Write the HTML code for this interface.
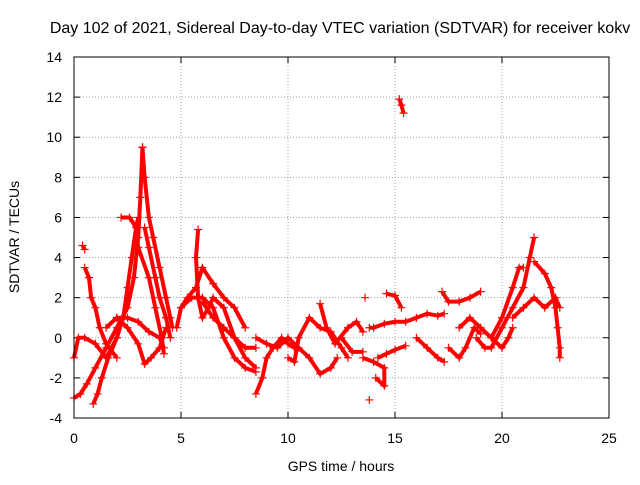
<!DOCTYPE html>
<html><head><meta charset="utf-8"><style>
body{margin:0;background:#fff}
svg text{font-family:"Liberation Sans",sans-serif;fill:#000}
</style></head><body>
<svg id="chart" width="640" height="480">
<rect width="640" height="480" fill="#fff"/>
<text x="340" y="33" font-size="16" text-anchor="middle">Day 102 of 2021, Sidereal Day-to-day VTEC variation (SDTVAR) for receiver kokv</text>
<g id="grid"></g>
<g id="axes"></g>
<g id="marks"></g>
<rect x="74" y="57" width="535" height="361" fill="none" stroke="#000"/>
<text x="341" y="471" font-size="14" text-anchor="middle">GPS time / hours</text>
<text x="0" y="0" font-size="14" text-anchor="middle" transform="translate(19,237) rotate(-90)">SDTVAR / TECUs</text>
</svg>
<script>
const xTicks=[0,5,10,15,20,25];
const yTicks=[-4,-2,0,2,4,6,8,10,12,14];
const tracks=[
[[0,-3],[0.3,-2.8],[0.6,-2.3],[1,-1.5],[1.5,-0.5],[2,0.5],[2.5,1.5],[2.8,3],[3,5],[3.1,7],[3.2,9.5]],
[[3.2,9.5],[3.3,8],[3.5,6],[3.7,5],[4,3.5],[4.3,2],[4.5,1],[4.6,0.5]],
[[0.4,4.6],[0.5,4.4]],
[[0.5,3.5],[0.7,3],[0.8,2],[1,1.5],[1.2,0.5],[1.5,-0.3],[2,-1]],
[[0.9,-3.3],[1.1,-2.8],[1.3,-2],[1.6,-1],[2,0],[2.3,1],[2.5,2.5],[2.7,4],[2.9,5.5],[3,6]],
[[2.2,6],[2.6,6],[2.9,5.5],[3,4.5],[3.5,3],[3.8,1.5],[4.1,0],[4.2,-0.8]],
[[3.3,5.5],[3.5,4.5],[3.8,3],[4,2],[4.3,1],[4.5,0]],
[[0,-1],[0.2,0],[0.5,0],[1,-0.3],[1.5,-1],[2,0]],
[[2,1],[2.5,0.5],[3,-0.3],[3.3,-1.3],[3.6,-1],[4,-0.5],[4.3,0.5]],
[[1.5,0.5],[2,1],[2.5,1],[3,0.8],[3.5,0.3],[4,0],[4.2,-0.5]],
[[5,1.5],[5.3,2],[5.7,2.5],[6,3.5],[6.5,2.7],[7,2],[7.5,1.5],[8,0.5]],
[[5.8,5.4],[5.7,4],[5.8,2],[6,1],[6.3,1.5],[6.5,2],[7,1.5],[7.5,0],[8,-1],[8.5,-1.5]],
[[4.8,0.5],[5,1.5],[5.5,2],[6,2],[6.5,1.5],[7,0],[7.5,-1],[8,-1.5],[8.5,-1.7]],
[[6,1.8],[6.5,1],[7,0.5],[7.5,0],[8,-0.5],[8.5,-0.5]],
[[8.5,-2.8],[8.8,-2],[9,-1],[9.3,-0.5],[9.7,0],[10,-0.3],[10.3,-0.5]],
[[8.5,0],[9,-0.3],[9.5,-0.5],[10,0],[10.5,-0.5],[11,-1],[11.5,-1.8],[12,-1.5],[12.3,-1]],
[[10,-1],[10.3,-1.2],[10.5,0],[11,1],[11.5,0.5],[12,0.3],[12.5,-0.5],[12.8,-1]],
[[11.5,1.7],[11.8,0.5],[12.2,-0.3],[12.8,0.5],[13.2,0.8],[13.5,0.3]],
[[12.5,0],[13,-0.7],[13.5,-0.7]],
[[13.5,-1],[14,-1.2],[14.5,-1.5],[14.5,-2.4],[14.1,-2.0]],
[[13.8,0.5],[14,0.5],[14.5,0.7],[15,0.8],[15.5,0.8],[16,1],[16.5,1.2],[17,1.1],[17.3,1.2]],
[[14.2,-1.0],[14.6,-0.8],[15,-0.6],[15.5,-0.4]],
[[14.6,2.2],[15,2.1],[15.3,1.5]],
[[15.2,11.9],[15.3,11.6],[15.4,11.2]],
[[16,0],[16.5,-0.5],[17,-1],[17.3,-1.2]],
[[17.2,2.3],[17.5,1.8],[18,1.8],[18.5,2],[19,2.3]],
[[17.5,-0.5],[18,-1],[18.3,-0.5],[18.7,0.5],[19,0.2]],
[[18,0.5],[18.5,1],[19,0.5],[19.5,0],[20,-0.5],[20.3,0],[20.5,0.5]],
[[18.8,0],[19.2,-0.5],[19.5,-0.5],[20,0.5],[20.5,1.5],[21,2.5],[21.3,4],[21.5,5]],
[[19.5,0],[20,1],[20.5,2.5],[20.8,3.5],[21,3.5]],
[[21.5,3.8],[22,3.2],[22.3,2.5],[22.5,1.5],[22.6,0.5],[22.7,-0.5],[22.7,-1]],
[[20.5,1],[21,1.5],[21.5,2],[22,1.5],[22.5,2],[22.7,1.5]],
[[13.8,-3.1]],
[[13.6,2]]
];
const NS="http://www.w3.org/2000/svg";
const X=t=>74+t*(535/25);
const Y=v=>418-(v+4)*(361/18);
const grid=document.getElementById('grid'),axes=document.getElementById('axes'),marks=document.getElementById('marks');
function mk(tag,attrs,parent){const e=document.createElementNS(NS,tag);for(const k in attrs)e.setAttribute(k,attrs[k]);parent.appendChild(e);return e;}
xTicks.forEach(t=>{
 const x=X(t);
 if(t>0&&t<25){const g=mk('line',{x1:x,x2:x,y1:57,y2:418,stroke:'#a0a0a0','stroke-dasharray':'1,2'},grid);
 
 }
 mk('line',{x1:x,x2:x,y1:418,y2:412,stroke:'#000'},axes);
 mk('line',{x1:x,x2:x,y1:57,y2:63,stroke:'#000'},axes);
 const l=mk('text',{x:x,y:443,'font-size':14,'text-anchor':'middle'},axes);l.textContent=t;
 
 
});
yTicks.forEach(v=>{
 const y=Y(v);
 if(v>-4&&v<14){const g=mk('line',{x1:74,x2:609,y1:y,y2:y,stroke:'#a0a0a0','stroke-dasharray':'1,2'},grid);
 
 }
 mk('line',{x1:74,x2:80,y1:y,y2:y,stroke:'#000'},axes);
 mk('line',{x1:603,x2:609,y1:y,y2:y,stroke:'#000'},axes);
 const l=mk('text',{x:62,y:y+5,'font-size':14,'text-anchor':'end'},axes);l.textContent=v;
 
 
});
tracks.forEach(tr=>{
 if(tr.length>1){const p=mk('polyline',{points:tr.map(d=>X(d[0])+','+Y(d[1])).join(' '),fill:'none',stroke:'#f00','stroke-width':4,'stroke-linejoin':'round'},marks);
 
 }
 tr.forEach(d=>{
  const x=X(d[0]),y=Y(d[1]);
  const m=mk('path',{d:`M${x-4},${y}H${x+4}M${x},${y-4}V${y+4}`,stroke:'#f00','stroke-width':1.2},marks);
  
  
 });
});
</script>
</body></html>
